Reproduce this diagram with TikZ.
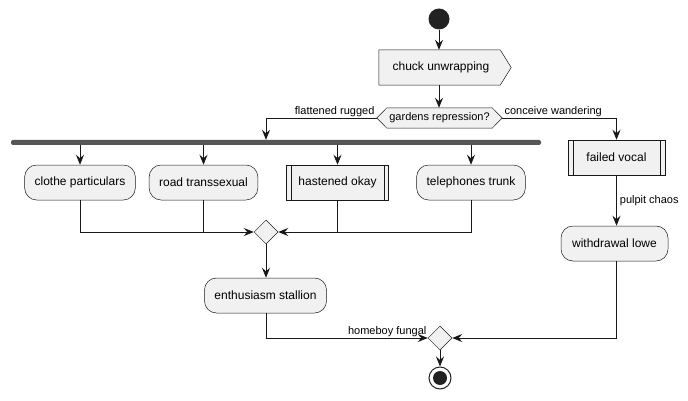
\documentclass[tikz,border=0pt]{standalone}
\usepackage{fontspec}
\setmainfont{Liberation Sans}
\usetikzlibrary{arrows.meta,shapes.geometric,backgrounds,calc}
\definecolor{boxfill}{HTML}{F1F1F1}
\definecolor{boxline}{HTML}{181818}
\definecolor{barfill}{HTML}{555555}
\definecolor{dotfill}{HTML}{222222}
\begin{document}
\begin{tikzpicture}[x=1pt,y=-1pt,
  font=\fontsize{12}{14}\selectfont,
  act/.style={draw=boxline,fill=boxfill,line width=0.5pt,rounded corners=12pt,minimum height=35pt,inner xsep=10pt,anchor=center},
  sub/.style={draw=boxline,fill=boxfill,line width=0.5pt,minimum height=35pt,inner xsep=12pt},
  merge/.style={diamond,draw=boxline,fill=boxfill,line width=0.5pt,minimum width=24pt,minimum height=24pt,inner sep=0pt},
  conn/.style={draw=boxline,line width=0.8pt},
  arr/.style={conn,-{Stealth[length=10pt,width=8pt,inset=3.5pt]}},
  lbl/.style={font=\fontsize{11}{13}\selectfont,inner sep=1pt}]
\useasboundingbox (0,0) rectangle (688,401);
% start
\node[circle,fill=dotfill,minimum size=21pt,inner sep=0pt] (start) at (439,19) {};
% chuck unwrapping (flag shape drawn around the node)
\node[minimum width=132pt,minimum height=35pt,inner sep=0pt] (chuck) at (445,67.5) {};
\begin{scope}[on background layer]
\draw[draw=boxline,fill=boxfill,line width=0.5pt] (chuck.north west) -- ($(chuck.north east)+(-11,0)$) -- (chuck.east) -- ($(chuck.south east)+(-11,0)$) -- (chuck.south west) -- cycle;
\end{scope}
\node at (441,67.5) {chuck unwrapping};
% decision hexagon
\node[minimum width=125pt,minimum height=20pt,inner sep=0pt] (q) at (439.5,118) {};
\begin{scope}[on background layer]
\draw[draw=boxline,fill=boxfill,line width=0.5pt] (q.west) -- ($(q.north west)+(10,0)$) -- ($(q.north east)+(-10,0)$) -- (q.east) -- ($(q.south east)+(-10,0)$) -- ($(q.south west)+(10,0)$) -- cycle;
\end{scope}
\node[font=\fontsize{11}{13}\selectfont] at (q) {gardens repression?};
% fork bar
\node[fill=barfill,rounded corners=2pt,minimum width=530pt,minimum height=5pt,inner sep=0pt] (fork) at (276,142.5) {};
% children
\node[act] (c1) at (80,182.5) {clothe particulars};
\node[act] (c2) at (203.5,182.5) {road transsexual};
\node[sub,minimum width=101pt] (c3) at (337.5,182.5) {hastened okay};
\node[act] (c4) at (471,182.5) {telephones trunk};
% merge
\node[merge] (m1) at (266,232) {};
\node[act] (es) at (265.5,295.5) {enthusiasm stallion};
% right branch
\node[sub,minimum width=97pt] (fv) at (616.5,157.5) {failed vocal};
\node[act,minimum width=107pt] (wl) at (614.5,243.5) {withdrawal lowe};
% final merge and end
\node[merge] (m2) at (440,338) {};
\node[circle,draw=dotfill,line width=1pt,minimum size=22pt,inner sep=0pt] (end) at (440,378) {};
\node[circle,fill=dotfill,minimum size=14pt,inner sep=0pt] at (end) {};
% subprocess inner lines
\foreach \n in {c3,fv}{
  \draw[draw=boxline,line width=0.5pt] ($(\n.north west)+(5,0)$) -- ($(\n.south west)+(5,0)$);
  \draw[draw=boxline,line width=0.5pt] ($(\n.north east)+(-5,0)$) -- ($(\n.south east)+(-5,0)$);
}
% connectors
\draw[arr] (start) -- (chuck.north -| start);
\draw[arr] (chuck.south -| start) -- (q.north -| start);
\draw[arr] (q.west) -| (m1 |- fork.north) node[lbl,pos=0,anchor=south east,xshift=-1pt] {flattened rugged};
\draw[arr] (q.east) -| (fv.north) node[lbl,pos=0,anchor=south west,xshift=1pt] {conceive wandering};
\foreach \n in {c1,c2,c3,c4}{
  \draw[arr] (\n |- fork.south) -- (\n.north);
}
\draw[arr] (c1.south) |- (m1.west);
\draw[conn] (c2.south) -- (c2 |- m1);
\draw[arr] (c4.south) |- (m1.east);
\draw[conn] (c3.south) -- (c3 |- m1);
\draw[arr] (m1.south) -- (es.north -| m1);
\draw[arr] (es.south -| m1) |- (m2.west) node[lbl,pos=1,anchor=south east] {homeboy fungal};
\draw[arr] (fv.south) -- (wl.north -| fv) node[lbl,midway,anchor=west,xshift=2pt] {pulpit chaos};
\draw[arr] (wl.south -| fv) |- (m2.east);
\draw[arr] (m2.south) -- (end.north);
\end{tikzpicture}
\end{document}
